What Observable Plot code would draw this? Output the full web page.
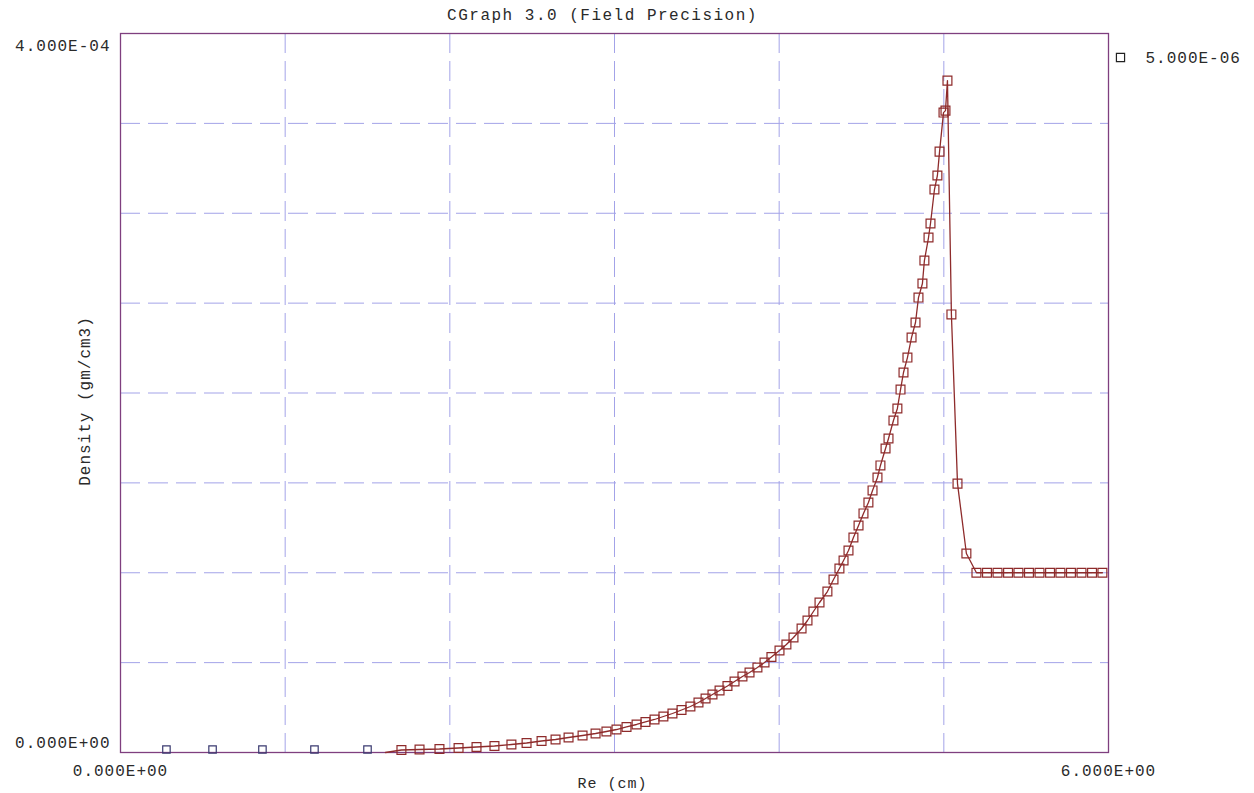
<!DOCTYPE html>
<html>
<head>
<meta charset="utf-8">
<script src="https://cdn.jsdelivr.net/npm/d3@7"></script>
<script src="https://cdn.jsdelivr.net/npm/@observablehq/plot@0.6"></script>
<style>
  html, body { margin: 0; padding: 0; background: #fff; }
  #chart svg { display: block; }
</style>
</head>
<body>
<div id="chart"></div>
<script>
// ---- data ----
const titleText = "CGraph 3.0 (Field Precision)";
const xLabel = "Re (cm)";
const yLabel = "Density (gm/cm3)";
const legendText = "5.000E-06";
const xTicks = [0, 6];
const yTickTop = [4e-4];
const yTickBottom = [0];
const xGrid = [1, 2, 3, 4, 5];
const yGrid = [5e-5, 1e-4, 1.5e-4, 2e-4, 2.5e-4, 3e-4, 3.5e-4];

// points at zero density (dark markers, no line)
const zeroX = [0.279, 0.559, 0.862, 1.178, 1.500];

// curve: first point is the start of the line (no marker)
const curveX = [1.609,
  1.706, 1.816, 1.937, 2.053, 2.162, 2.271, 2.374, 2.466, 2.557, 2.642,
  2.721, 2.806, 2.885, 2.951, 3.012, 3.073, 3.134, 3.188, 3.243, 3.297,
  3.352, 3.407, 3.461, 3.510, 3.553, 3.595, 3.638, 3.686, 3.729, 3.777,
  3.820, 3.868, 3.911, 3.953, 4.002, 4.044, 4.087, 4.136, 4.172, 4.208,
  4.245, 4.293, 4.330, 4.366, 4.391, 4.421, 4.451, 4.482, 4.512, 4.542,
  4.567, 4.597, 4.615, 4.646, 4.664, 4.694, 4.718, 4.737, 4.755, 4.779,
  4.804, 4.828, 4.846, 4.870, 4.882, 4.907, 4.919, 4.943, 4.961, 4.974,
  4.998, 5.010, 5.022, 5.046, 5.083, 5.137, 5.198,
  5.262, 5.326, 5.390, 5.453, 5.517, 5.581, 5.645, 5.708, 5.772, 5.836, 5.900, 5.963];
const curveDensity = [0,
  1.39e-6, 1.67e-6, 1.95e-6, 2.50e-6, 3.06e-6, 3.62e-6, 4.45e-6, 5.28e-6, 6.40e-6, 7.23e-6,
  8.34e-6, 9.46e-6, 1.057e-5, 1.168e-5, 1.279e-5, 1.419e-5, 1.558e-5, 1.697e-5, 1.836e-5, 2.003e-5,
  2.170e-5, 2.364e-5, 2.559e-5, 2.782e-5, 3.004e-5, 3.227e-5, 3.449e-5, 3.699e-5, 3.950e-5, 4.228e-5,
  4.450e-5, 4.729e-5, 5.007e-5, 5.313e-5, 5.674e-5, 6.008e-5, 6.397e-5, 6.898e-5, 7.343e-5, 7.844e-5,
  8.345e-5, 8.956e-5, 9.624e-5, 1.0236e-4, 1.068e-4, 1.124e-4, 1.196e-4, 1.263e-4, 1.330e-4, 1.391e-4,
  1.458e-4, 1.530e-4, 1.597e-4, 1.691e-4, 1.747e-4, 1.847e-4, 1.914e-4, 2.019e-4, 2.114e-4, 2.197e-4,
  2.309e-4, 2.392e-4, 2.531e-4, 2.609e-4, 2.737e-4, 2.865e-4, 2.943e-4, 3.132e-4, 3.210e-4, 3.343e-4,
  3.560e-4, 3.571e-4, 3.738e-4, 2.437e-4, 1.496e-4, 1.107e-4, 1.0e-4,
  1.0e-4, 1.0e-4, 1.0e-4, 1.0e-4, 1.0e-4, 1.0e-4, 1.0e-4, 1.0e-4, 1.0e-4, 1.0e-4, 1.0e-4, 1.0e-4];

// ---- build ----
const curve = curveX.map((x, i) => ({x, y: curveDensity[i]}));
const markers = curve.slice(1);
const zeros = zeroX.map(x => ({x, y: 0}));

const fmtE = v => {
  const [m, e] = v.toExponential(3).toUpperCase().split("E");
  const n = +e;
  return m + "E" + (n < 0 ? "-" : "+") + String(Math.abs(n)).padStart(2, "0");
};

const FONT = "'Liberation Mono', 'Courier New', 'DejaVu Sans Mono', monospace";
const TEXT = "#2a2a2a";
const RED = "#8e2b2b";
const NAVY = "#3a3a70";
const GRID = "#a3a3e8";
const FRAME = "#7f3f7f";

const chart = Plot.plot({
  width: 1254,
  height: 793,
  marginLeft: 120,
  marginTop: 33,
  marginRight: 146,
  marginBottom: 41,
  style: {fontFamily: FONT, fontSize: "16px", color: TEXT, background: "#fff"},
  x: {domain: [0, 6], axis: null},
  y: {domain: [0, 4e-4], axis: null},
  marks: [
    Plot.gridX(xGrid, {stroke: GRID, strokeOpacity: 1, strokeDasharray: "20,8", strokeWidth: 1}),
    Plot.gridY(yGrid, {stroke: GRID, strokeOpacity: 1, strokeDasharray: "20,8", strokeWidth: 1}),
    Plot.frame({stroke: FRAME, strokeWidth: 1.3}),
    Plot.axisX({ticks: xTicks, tickFormat: fmtE, tickSize: 0, tickPadding: 12, label: null, fill: TEXT}),
    Plot.axisY({ticks: yTickTop, tickFormat: fmtE, tickSize: 0, tickPadding: 10, dy: 12, label: null, fill: TEXT}),
    Plot.axisY({ticks: yTickBottom, tickFormat: fmtE, tickSize: 0, tickPadding: 10, dy: -10, label: null, fill: TEXT}),
    Plot.line(curve, {x: "x", y: "y", stroke: RED, strokeWidth: 1.3}),
    Plot.dot(markers, {x: "x", y: "y", symbol: "square", r: 5, stroke: RED, fill: "none", strokeWidth: 1.2}),
    Plot.dot(zeros, {x: "x", y: "y", symbol: "square", r: 4.2, stroke: NAVY, fill: "none", strokeWidth: 1.2, dy: -3}),
    Plot.text([titleText], {frameAnchor: "top", dy: -19, dx: -12, lineAnchor: "middle", fill: TEXT, fontSize: 16}),
    Plot.text([xLabel], {frameAnchor: "bottom", dy: 31, dx: -2, lineAnchor: "middle", fill: TEXT, fontSize: 15}),
    Plot.text([yLabel], {frameAnchor: "left", rotate: -90, textAnchor: "middle", lineAnchor: "middle", dx: -36, dy: 8, fill: TEXT, fontSize: 16}),
    Plot.dot([{x: 6, y: 4e-4}], {x: "x", y: "y", symbol: "square", r: 4.6, stroke: "#222", fill: "none", strokeWidth: 1.2, dx: 12, dy: 24}),
    Plot.text([legendText], {frameAnchor: "top-right", dx: 37, dy: 24, textAnchor: "start", lineAnchor: "middle", fill: TEXT})
  ]
});
chart.style.letterSpacing = "1px";
// slightly wider spacing for the title, as in the reference
chart.querySelectorAll("text").forEach(t => {
  if (t.textContent === titleText) t.setAttribute("letter-spacing", "1.5px");
});
document.getElementById("chart").appendChild(chart);
</script>
</body>
</html>
